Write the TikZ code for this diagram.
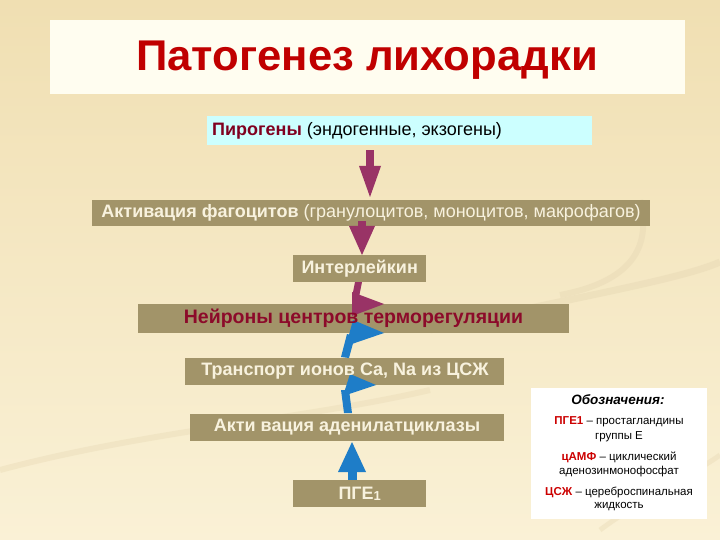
\documentclass[tikz,border=0pt]{standalone}
\usepackage{fontspec}
\setmainfont{Liberation Sans}
\usetikzlibrary{positioning}
\definecolor{bgtop}{RGB}{240,223,178}
\definecolor{bgbot}{RGB}{250,241,214}
\definecolor{swirl}{RGB}{234,220,184}
\definecolor{titlebg}{RGB}{255,253,240}
\definecolor{titlered}{RGB}{192,0,0}
\definecolor{boxbrown}{RGB}{162,148,105}
\definecolor{boxtext}{RGB}{248,242,222}
\definecolor{cyanbox}{RGB}{204,255,255}
\definecolor{darkred}{RGB}{128,0,32}
\definecolor{neurored}{RGB}{140,10,42}
\definecolor{magarrow}{RGB}{153,51,102}
\definecolor{bluearrow}{RGB}{30,125,200}
\definecolor{legred}{RGB}{204,0,0}
\tikzset{
  stepbox/.style={fill=boxbrown, draw=none, inner sep=0pt, text=boxtext, font=\fontsize{18}{20}\selectfont\bfseries},
  magfill/.style={fill=magarrow, draw=none},
  bluefill/.style={fill=bluearrow, draw=none},
  legline/.style={font=\fontsize{11.5}{13}\selectfont, inner sep=0pt}
}
\begin{document}
\begin{tikzpicture}[x=1pt,y=-1pt]
\useasboundingbox (0,0) rectangle (720,540);
% background
\shade[top color=bgtop, bottom color=bgbot] (0,0) rectangle (720,540);
% faint swirls
\draw[swirl, line width=7pt, opacity=0.6] (430,330) .. controls (560,300) and (680,280) .. (720,262);
\draw[swirl, line width=6pt, opacity=0.6] (560,295) .. controls (640,280) and (650,240) .. (640,200);
\draw[swirl, line width=6pt, opacity=0.45] (0,470) .. controls (150,430) and (300,420) .. (430,390);
\draw[swirl, line width=5pt, opacity=0.45] (600,530) .. controls (640,500) and (700,470) .. (720,455);
% title
\node[fill=titlebg, minimum width=635pt, minimum height=74pt, inner sep=0pt, anchor=north west] (titlebox) at (50,20) {};
\node[text=titlered, font=\fontsize{43}{46}\selectfont\bfseries, inner sep=0pt] (title) at (367,60) {\scalebox{1.015}[1]{Патогенез лихорадки}};
% pyrogens
\node[fill=cyanbox, minimum width=385pt, minimum height=29pt, inner sep=0pt, anchor=north west] (pyrbox) at (207,116) {};
\node[font=\fontsize{18}{20}\selectfont, inner sep=0pt, anchor=west] (pyr) at (212,130.5) {\textcolor{darkred}{\textbf{Пирогены}} (эндогенные, экзогены)};
% phagocytes
\node[stepbox, minimum width=558pt, minimum height=26pt, anchor=north west] (phag) at (92,200) {};
\node[stepbox, fill=none] (phagt) at (371,213) {Активация фагоцитов \mdseries(гранулоцитов, моноцитов, макрофагов)};
% interleukin
\node[stepbox, minimum width=133pt, minimum height=27pt, anchor=north west] (il) at (293,255) {};
\node[stepbox, fill=none] (ilt) at (il.center) {Интерлейкин};
% neurons
\node[stepbox, minimum width=431pt, minimum height=29pt, anchor=north west] (neur) at (138,304) {};
% transport
\node[stepbox, minimum width=319pt, minimum height=27pt, anchor=north west] (trans) at (185,358) {};
% adenylate
\node[stepbox, minimum width=314pt, minimum height=27pt, anchor=north west] (aden) at (190,414) {};
% PGE1
\node[stepbox, minimum width=133pt, minimum height=27pt, anchor=north west] (pge) at (293,480) {};
% magenta arrows
\fill[magfill] (366,150) rectangle (374,168);
\fill[magfill] (359,166) -- (381,166) -- (370,197) -- cycle;
\fill[magfill] (358,221) -- (366,221) -- (366,228) -- (358,228) -- cycle;
\fill[magfill] (349,226) -- (375,226) -- (362,255) -- cycle;
\fill[magfill] (355,282) -- (362,282) -- (359,297) -- (352,297) -- cycle;
\fill[magfill] (352,292) -- (352,316) -- (384,304) -- cycle;
% blue arrows
\fill[bluefill] (341,357) -- (349,358) -- (355,336) -- (347,334) -- cycle;
\fill[bluefill] (353,320) -- (346,346) -- (384,333) -- cycle;
\fill[bluefill] (344,413) -- (352,413) -- (349,390) -- (341,390) -- cycle;
\fill[bluefill] (350,374) -- (343,396) -- (376,385) -- cycle;
\fill[bluefill] (348,470) rectangle (357,480);
\fill[bluefill] (338,472) -- (366,472) -- (352,442) -- cycle;
% texts over arrows
\node[stepbox, fill=none, text=neurored, font=\fontsize{19.5}{21}\selectfont\bfseries] (neurt) at (353.5,318.5) {Нейроны центров терморегуляции};
\node[stepbox, fill=none] (transt) at (345,371.5) {Транспорт ионов Са, Na из ЦСЖ};
\node[stepbox, fill=none] (adent) at (347,427.5) {Акти вация аденилатциклазы};
\node[stepbox, fill=none] (pget) at (pge.center) {ПГЕ\raisebox{-0.5pt}{\fontsize{13}{14}\selectfont 1}};
% legend
\node[fill=white, minimum width=176pt, minimum height=131pt, inner sep=0pt, anchor=north west] (leg) at (531,388) {};
\node[font=\fontsize{13.5}{15}\selectfont\bfseries\itshape, inner sep=0pt] (legt) at (618,400) {Обозначения:};
\node[legline] (l1) at (619,422) {\textcolor{legred}{\textbf{ПГЕ1}} – простагландины};
\node[legline] (l2) at (619,437) {группы Е};
\node[legline] (l3) at (619,457) {\textcolor{legred}{\textbf{цАМФ}} – циклический};
\node[legline] (l4) at (619,472) {аденозинмонофосфат};
\node[legline] (l5) at (619,492) {\textcolor{legred}{\textbf{ЦСЖ}} – цереброспинальная};
\node[legline] (l6) at (619,507) {жидкость};
\end{tikzpicture}
\end{document}
